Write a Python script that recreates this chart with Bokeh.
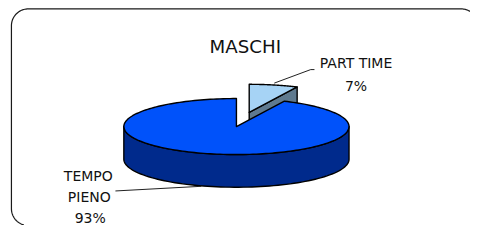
import numpy as np
from bokeh.plotting import figure
from bokeh.models import Range1d
from bokeh.core.properties import value
from bokeh.embed import file_html
from bokeh.resources import INLINE

# ---- data ----
chart_title = "MASCHI"
categories = ["PART TIME", "TEMPO PIENO"]
values = [7, 93]
label_lines = [["PART TIME"], ["TEMPO", "PIENO"]]
explode = [0.52, 0.0]

top_colors = ["#A6D3F5", "#0052FA"]
side_colors = ["#5F7A8F", "#002A8C"]

# ---- layout: data coordinates = reference pixel coordinates (503 x 241) ----
REF_W, REF_H = 503, 241
H = 225
W = int(round(H * REF_W / REF_H))
S = H / REF_H  # screen pixels per reference pixel
cx, cy = 252.5, 135.0
rx, ry = 120.5, 30.0
depth = 35.0
FONT = "DejaVu Sans"

def px(v):
    return f"{v * S:.1f}px"

p = figure(width=W, height=H, output_backend="svg", toolbar_location=None,
           x_range=Range1d(0, REF_W), y_range=Range1d(REF_H, 0),
           min_border=0, outline_line_color=None)
p.axis.visible = False
p.grid.visible = False
p.background_fill_color = "white"
p.border_fill_color = "white"

# rounded frame (only the visible part: top-right corner start, top, left, bottom-left corner)
R = 18.0
fx0, fy0, fx1, fy1 = 11.7, 9.0, 511.0, 241.0
def arc(ccx, ccy, a0, a1, n=24):
    t = np.radians(np.linspace(a0, a1, n))
    return list(ccx + R * np.cos(t)), list(ccy - R * np.sin(t))
ax1, ay1 = arc(fx1 - R, fy0 + R, 56, 90)
ax2, ay2 = arc(fx0 + R, fy0 + R, 90, 180)
ax3, ay3 = arc(fx0 + R, fy1 - R, 180, 255)
bx = ax1 + ax2 + ax3
by = ay1 + ay2 + ay3
p.line(bx, by, line_color="#1a1a1a", line_width=1.3 * S)

total = float(sum(values))

def rim(theta_deg, ox, oy, dz=0.0):
    t = np.radians(theta_deg)
    return cx + ox + rx * np.cos(t), cy + oy - ry * np.sin(t) + dz

slices = []
a = 90.0
for i, v in enumerate(values):
    a0 = a
    a1 = a - 360.0 * v / total
    a = a1
    mid = (a0 + a1) / 2.0
    ox = rx * np.cos(np.radians(mid)) * explode[i]
    oy = -ry * np.sin(np.radians(mid)) * explode[i]
    slices.append((i, a0, a1, mid, ox, oy))

# draw back slices first
slices.sort(key=lambda s: -np.sin(np.radians(s[3])))

LW = 1.5 * S
for (i, a0, a1, mid, ox, oy) in slices:
    xs_s, ys_s, cs = [], [], []
    lo, hi = a1, a0
    k = np.floor((lo - 180) / 360.0)
    for base in [180 + 360 * k + 360 * j for j in range(-1, 3)]:
        s = max(lo, base); e = min(hi, base + 180)
        if e > s:
            ts = np.linspace(s, e, 80)
            tx, ty = zip(*[rim(t, ox, oy) for t in ts])
            bxs, bys = zip(*[rim(t, ox, oy, depth) for t in ts[::-1]])
            xs_s.append(list(tx) + list(bxs)); ys_s.append(list(ty) + list(bys)); cs.append(side_colors[i])
    if np.cos(np.radians(a1)) > 1e-6:
        qx, qy = rim(a1, ox, oy)
        xs_s.append([cx + ox, qx, qx, cx + ox])
        ys_s.append([cy + oy, qy, qy + depth, cy + oy + depth]); cs.append(side_colors[i])
    if np.cos(np.radians(a0)) < -1e-6:
        qx, qy = rim(a0, ox, oy)
        xs_s.append([cx + ox, qx, qx, cx + ox])
        ys_s.append([cy + oy, qy, qy + depth, cy + oy + depth]); cs.append(side_colors[i])
    if xs_s:
        p.patches(xs_s, ys_s, fill_color=cs, line_color="black", line_width=LW, line_join="round")
    ts = np.linspace(a0, a1, 200)
    tx, ty = zip(*[rim(t, ox, oy) for t in ts])
    p.patch([cx + ox] + list(tx) + [cx + ox], [cy + oy] + list(ty) + [cy + oy],
            fill_color=top_colors[i], line_color="black", line_width=LW, line_join="round")

# ---- labels ----
pct = [f"{round(v / total * 100)}%" for v in values]

p.text(x=[262], y=[49], text=[chart_title], text_font=value(FONT), text_font_size=px(19.5),
       text_align="center", text_baseline="alphabetic", text_color="#111111")

p.text(x=[380.5, 380.5], y=[67, 92], text=label_lines[0] + [pct[0]], text_font=value(FONT),
       text_font_size=px(15), text_align="center", text_baseline="alphabetic", text_color="#111111")
p.text(x=[94, 95, 96], y=[188, 210, 233], text=label_lines[1] + [pct[1]], text_font=value(FONT),
       text_font_size=px(15), text_align="center", text_baseline="alphabetic", text_color="#111111")

# leader lines
p.line([293, 332, 336], [88.5, 74, 74], line_color="#111111", line_width=1.0 * S)
p.line([123, 215], [204, 199], line_color="#111111", line_width=1.0 * S)

open("out.html", "w").write(file_html(p, INLINE))
